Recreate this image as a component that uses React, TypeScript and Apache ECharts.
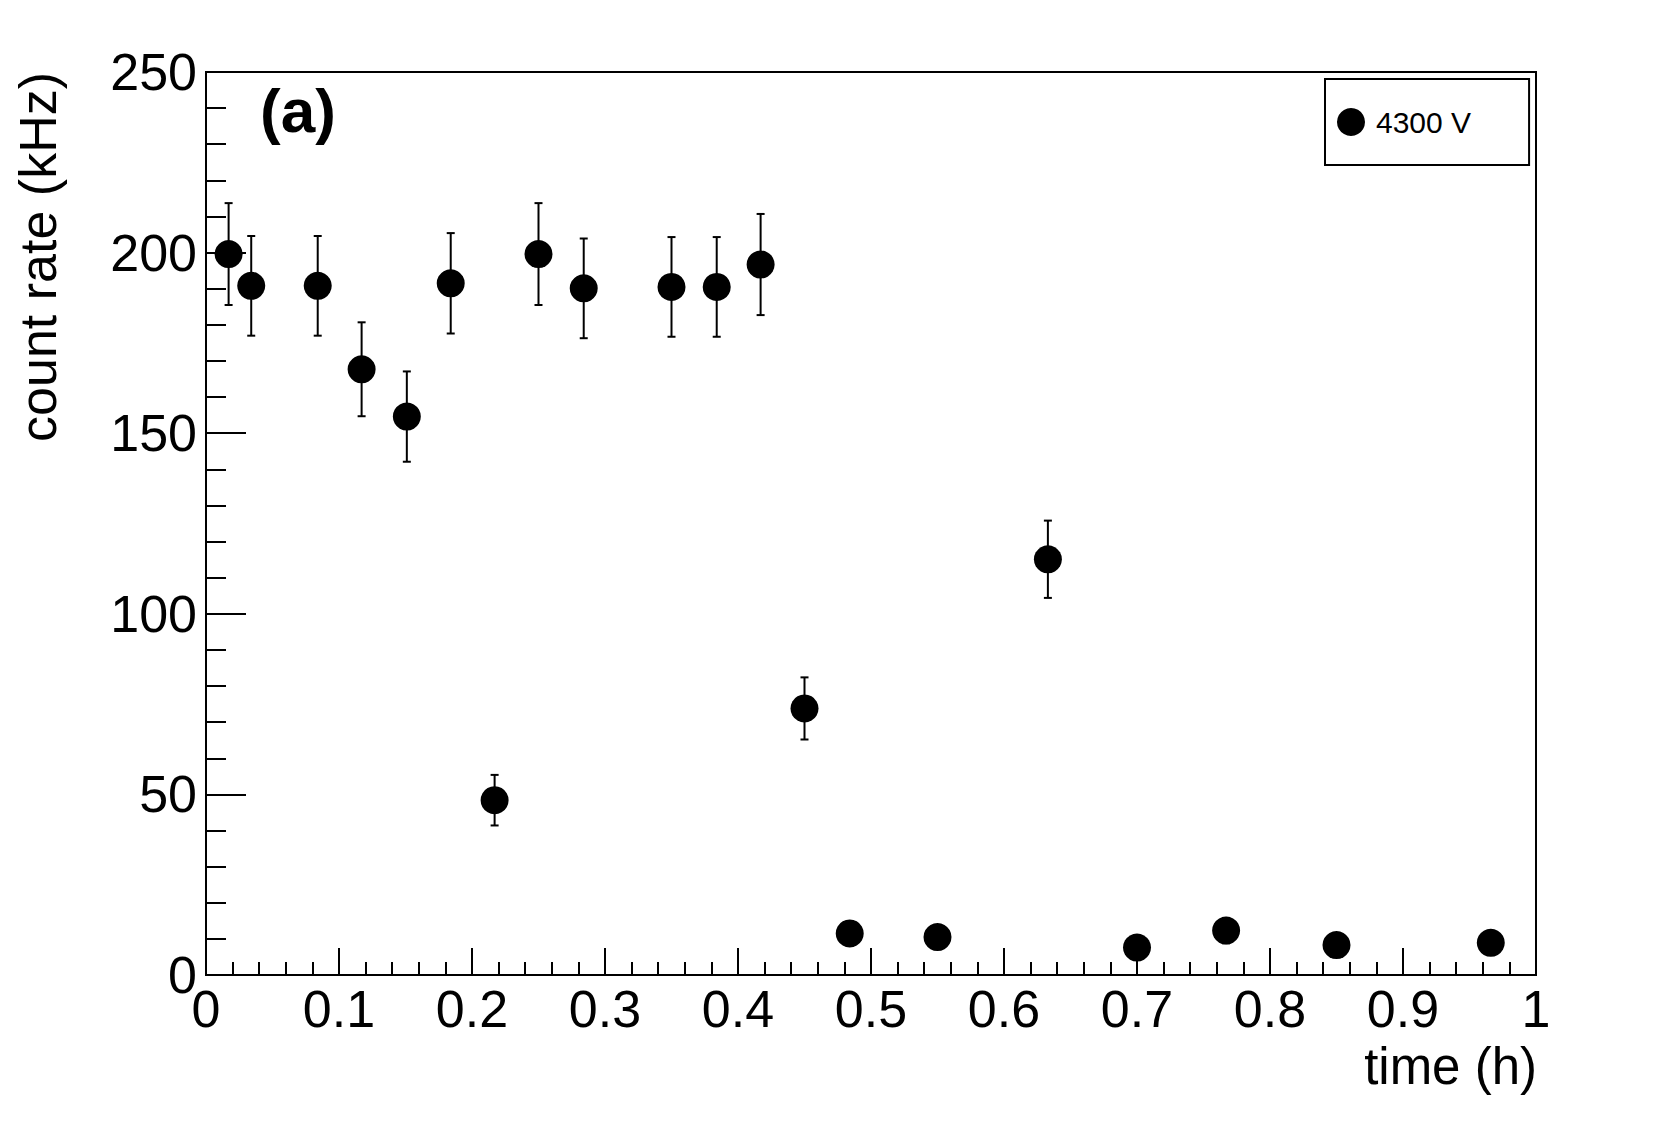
import React, { useEffect, useRef } from "react";
import * as echarts from "echarts";

const times = [0.017, 0.034, 0.084, 0.117, 0.151, 0.184, 0.217, 0.25, 0.284, 0.35, 0.384, 0.417, 0.45, 0.484, 0.55, 0.633, 0.7, 0.767, 0.85, 0.966];
const rates = [199.6, 190.8, 190.8, 167.7, 154.6, 191.5, 48.4, 199.6, 190.1, 190.5, 190.5, 196.7, 73.8, 11.5, 10.5, 115.1, 7.6, 12.3, 8.3, 8.9];
const rateErrors = [14.1, 13.8, 13.8, 13, 12.5, 13.9, 7, 14.1, 13.8, 13.8, 13.8, 14, 8.6, 3.4, 3.2, 10.7, 2.8, 3.5, 2.9, 3];
const seriesName = "4300 V";
const xTitle = "time (h)";
const yTitle = "count rate (kHz)";
const panelLabel = "(a)";

const FONT = "'Liberation Sans', Arial, Helvetica, sans-serif";

export default function App() {
  const ref = useRef<HTMLDivElement>(null);
  useEffect(() => {
    if (!ref.current) return;
    const chart = echarts.init(ref.current, null, { renderer: "svg" });
    const points = times.map((t, i) => [t, rates[i]]);
    const bars = times.map((t, i) => [t, rates[i] - rateErrors[i], rates[i] + rateErrors[i]]);
    const option: any = {
      animation: false,
      backgroundColor: "#fff",
      textStyle: { fontFamily: FONT, color: "#000" },
      grid: {
        left: 206,
        top: 72,
        right: 125,
        bottom: 156,
        show: true,
        borderColor: "#000",
        borderWidth: 2,
        backgroundColor: "transparent",
      },
      legend: {
        data: [seriesName],
        orient: "vertical",
        left: 1325,
        top: 79,
        padding: [28, 58, 28, 12],
        borderColor: "#000",
        borderWidth: 2,
        backgroundColor: "#fff",
        itemWidth: 28,
        itemHeight: 28,
        icon: "circle",
        itemStyle: { color: "#000", opacity: 1 },
        textStyle: { fontFamily: FONT, fontSize: 30, color: "#000", padding: [0, 0, 0, 6] },
      },
      xAxis: {
        type: "value",
        min: 0,
        max: 1,
        interval: 0.1,
        axisLine: { show: true, lineStyle: { color: "#000", width: 2 } },
        axisTick: { show: true, inside: true, length: 27, lineStyle: { color: "#000", width: 2 } },
        minorTick: { show: true, splitNumber: 5, length: 13, lineStyle: { color: "#000", width: 2 } },
        splitLine: { show: false },
        axisLabel: { fontFamily: FONT, fontSize: 52, color: "#000", margin: 8, showMinLabel: true, showMaxLabel: true },
      },
      yAxis: {
        type: "value",
        min: 0,
        max: 250,
        interval: 50,
        axisLine: { show: true, lineStyle: { color: "#000", width: 2 } },
        axisTick: { show: true, inside: true, length: 40, lineStyle: { color: "#000", width: 2 } },
        minorTick: { show: true, splitNumber: 5, length: 20, lineStyle: { color: "#000", width: 2 } },
        splitLine: { show: false },
        axisLabel: { fontFamily: FONT, fontSize: 52, color: "#000", margin: 9, showMinLabel: true, showMaxLabel: true },
      },
      graphic: [
        {
          type: "text",
          x: 1537,
          y: 1066,
          style: { text: xTitle, font: `51px ${FONT}`, fill: "#000", textAlign: "right", textVerticalAlign: "middle" },
        },
        {
          type: "text",
          x: 38,
          y: 72,
          rotation: Math.PI / 2,
          style: { text: yTitle, font: `52px ${FONT}`, fill: "#000", textAlign: "right", textVerticalAlign: "middle" },
        },
        {
          type: "text",
          x: 298,
          y: 110,
          style: { text: panelLabel, font: `bold 62px ${FONT}`, fill: "#000", textAlign: "center", textVerticalAlign: "middle" },
        },
      ],
      series: [
        {
          type: "custom",
          name: "errors",
          data: bars,
          encode: { x: 0, y: [1, 2] },
          z: 2,
          renderItem: (params: any, api: any) => {
            const x = api.value(0);
            const lo = api.coord([x, api.value(1)]);
            const hi = api.coord([x, api.value(2)]);
            const hw = 4;
            const st = { stroke: "#000", lineWidth: 2 };
            return {
              type: "group",
              children: [
                { type: "line", shape: { x1: lo[0], y1: lo[1], x2: hi[0], y2: hi[1] }, style: st },
                { type: "line", shape: { x1: hi[0] - hw, y1: hi[1], x2: hi[0] + hw, y2: hi[1] }, style: st },
                { type: "line", shape: { x1: lo[0] - hw, y1: lo[1], x2: lo[0] + hw, y2: lo[1] }, style: st },
              ],
            };
          },
        },
        {
          type: "scatter",
          name: seriesName,
          data: points,
          symbol: "circle",
          symbolSize: 28,
          itemStyle: { color: "#000", opacity: 1 },
          z: 3,
        },
      ],
    };
    chart.setOption(option);
    return () => chart.dispose();
  }, []);
  return <div ref={ref} style={{ position: "fixed", left: 0, top: 0, width: 1661, height: 1131 }} />;
}
